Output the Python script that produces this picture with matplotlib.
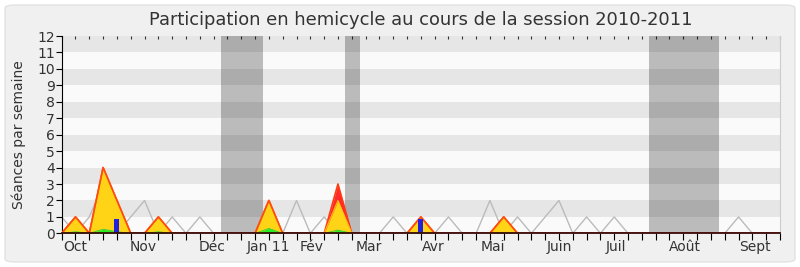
import matplotlib
matplotlib.use("Agg")
import matplotlib.pyplot as plt
from matplotlib.patches import FancyBboxPatch
import numpy as np

# Weekly data for the 2010-2011 session (week index 0..52)
weeks = np.arange(53)

total_sessions = [0, 1, 0, 4, 2, 0, 0, 1, 0, 0, 0, 0, 0, 0, 0, 2, 0, 0, 0, 0,
                  3, 0, 0, 0, 0, 0, 1, 0, 0, 0, 0, 0, 1, 0, 0, 0, 0, 0, 0, 0,
                  0, 0, 0, 0, 0, 0, 0, 0, 0, 0, 0, 0, 0]
present_sessions = [0, 1, 0, 4, 2, 0, 0, 1, 0, 0, 0, 0, 0, 0, 0, 2, 0, 0, 0, 0,
                    2, 0, 0, 0, 0, 0, 1, 0, 0, 0, 0, 0, 1, 0, 0, 0, 0, 0, 0, 0,
                    0, 0, 0, 0, 0, 0, 0, 0, 0, 0, 0, 0, 0]
interventions = [0, 0.1, 0, 0.25, 0.1, 0, 0, 0.1, 0, 0, 0, 0, 0, 0, 0, 0.3, 0, 0, 0, 0,
                 0.2, 0, 0, 0, 0, 0, 0.05, 0, 0, 0, 0, 0, 0.05, 0, 0, 0, 0, 0, 0, 0,
                 0, 0, 0, 0, 0, 0, 0, 0, 0, 0, 0, 0, 0]
median_sessions = [1, 0, 1, 3, 0, 1, 2, 0, 1, 0, 1, 0, 0, 0, 0, 0, 0, 2, 0, 1,
                   0, 0, 0, 0, 1, 0, 0, 0, 1, 0, 0, 2, 0, 1, 0, 1, 2, 0, 1, 0,
                   1, 0, 0, 0, 0, 0, 0, 0, 0, 1, 0, 0, 0]
question_weeks = [4, 26]
question_values = [0.9, 0.9]

recess_periods = [(11.5, 14.55), (20.5, 21.57), (42.55, 47.62)]

month_positions = [1.0, 5.9, 10.9, 15.0, 18.1, 22.2, 26.9, 31.2, 36.0, 40.1, 45.1, 50.2]
month_labels = ["Oct", "Nov", "Déc", "Jan 11", "Fév", "Mar", "Avr", "Mai",
                "Juin", "Juil", "Août", "Sept"]

fig = plt.figure(figsize=(8.0, 2.67), dpi=100)
fig.patch.set_facecolor("white")
frame = FancyBboxPatch((0.00625, 0.019), 0.9875, 0.962,
                       boxstyle="round,pad=0,rounding_size=0.012",
                       transform=fig.transFigure, facecolor="#F0F0F0",
                       edgecolor="#E2E2E2", linewidth=1.0, zorder=-10)
fig.patches.append(frame)

ax = fig.add_axes([0.0771, 0.126, 0.8979, 0.739])
ax.set_zorder(1)
ax.set_facecolor("#FAFAFA")
ax.set_xlim(0, 52)
ax.set_ylim(0, 12)

# Alternating horizontal stripes
for lo in range(1, 12, 2):
    ax.axhspan(lo, lo + 1, color="#E6E6E6", lw=0, zorder=0)

# Recess periods
for a, b in recess_periods:
    ax.axvspan(a, b, color="black", alpha=0.25, lw=0, zorder=1)

# Median line
ax.plot(weeks, median_sessions, color="#BBBBBB", lw=1.0, zorder=2)

# Stacked participation areas
ax.fill_between(weeks, total_sessions, 0, color="#FF2A2A", lw=0, zorder=3)
ax.plot(weeks, total_sessions, color="#FF3A10", lw=1.2, zorder=3.5)
ax.fill_between(weeks, present_sessions, 0, color="#FFD416", lw=0, zorder=4)
ax.plot(weeks, present_sessions, color="#FFC010", lw=0.8, zorder=4.2)
ax.fill_between(weeks, interventions, 0, color="#22EE22", lw=0, zorder=5)
ax.plot(weeks, interventions, color="#33CC33", lw=0.6, zorder=5.1)

# Orange outline where all sessions were attended
tot = np.array(total_sessions, dtype=float)
pres = np.array(present_sessions, dtype=float)
ax.plot(weeks, np.where(tot == pres, pres, np.nan), color="#FF4A10", lw=1.2, zorder=4.5)

ax.bar(question_weeks, question_values, width=0.36, color="#2222DD", lw=0, zorder=6)

# Axes styling
ax.spines["top"].set_visible(False)
ax.spines["right"].set_color("#CCCCCC")
ax.spines["left"].set_color("black")
ax.spines["bottom"].set_color("#3A0A0A")
ax.spines["bottom"].set_linewidth(1.3)
ax.spines["bottom"].set_zorder(7)

ax.set_yticks(range(0, 13))
ax.tick_params(axis="y", length=4, width=0.8, labelsize=10, pad=1,
               color="black", labelcolor="#333333")

ax.xaxis.remove_overlapping_locs = False
ax.set_xticks(weeks)
ax.set_xticklabels([])
ax.tick_params(axis="x", which="major", length=5, width=0.8, color="black",
               direction="out")
ax.set_xticks(month_positions, minor=True)
ax.set_xticklabels(month_labels, minor=True)
ax.tick_params(axis="x", which="minor", length=0, labelsize=10, pad=5,
               labelcolor="#333333")

# Short inward ticks along the top edge
sec = ax.secondary_xaxis("top")
sec.set_xticks(weeks)
sec.set_xticklabels([])
sec.tick_params(length=2, width=0.8, direction="in", color="#333333")
sec.spines["top"].set_visible(False)

ax.set_ylabel("Séances par semaine", fontsize=10, color="#333333", labelpad=8)
ax.set_title("Participation en hemicycle au cours de la session 2010-2011",
             fontsize=12.9, color="#333333", pad=8)

fig.savefig("out.png", dpi=100, facecolor=fig.get_facecolor())
